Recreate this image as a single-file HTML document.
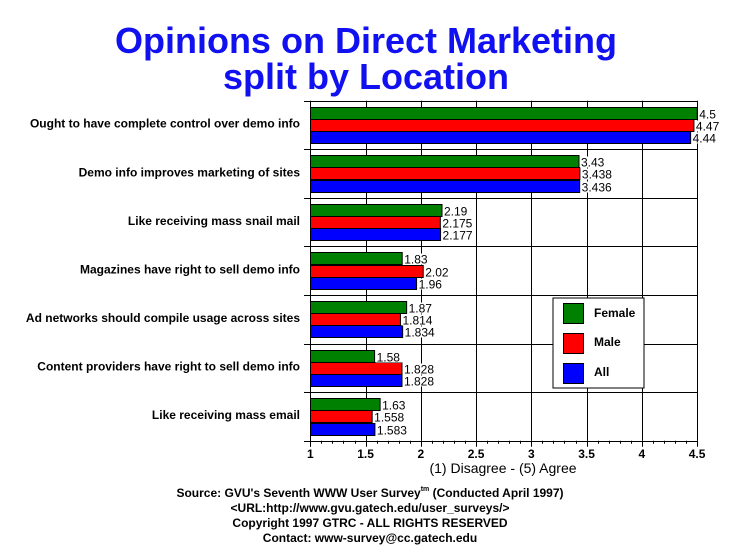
<!DOCTYPE html>
<html><head><meta charset="utf-8"><style>
body{margin:0;background:#fff;}
svg{display:block;font-family:"Liberation Sans",Arial,sans-serif;}
</style></head><body>
<svg id="c" width="729" height="553" xmlns="http://www.w3.org/2000/svg">
<text x="366" y="53" text-anchor="middle" font-size="36" font-weight="bold" fill="#1010f0">Opinions on Direct Marketing</text>
<text x="366" y="89" text-anchor="middle" font-size="36" font-weight="bold" fill="#1010f0">split by Location</text>
<g id="plot"></g>
<text x="503" y="473" text-anchor="middle" font-size="14">(1) Disagree - (5) Agree</text>
<g font-size="12" font-weight="bold" text-anchor="middle">
<text x="370" y="497">Source: GVU's Seventh WWW User Survey<tspan font-size="7" dy="-6">tm</tspan><tspan dy="6"> (Conducted April 1997)</tspan></text>
<text x="370" y="512">&lt;URL:http://www.gvu.gatech.edu/user_surveys/&gt;</text>
<text x="370" y="527">Copyright 1997 GTRC - ALL RIGHTS RESERVED</text>
<text x="370" y="542">Contact: www-survey@cc.gatech.edu</text>
</g>
<rect x="553" y="298" width="91" height="90" fill="#fff" stroke="#000" stroke-width="1"/>
<rect x="563.5" y="303.5" width="20" height="20" fill="#008000" stroke="#000"/>
<rect x="563.5" y="333.5" width="20" height="20" fill="#ff0000" stroke="#000"/>
<rect x="563.5" y="363.5" width="20" height="20" fill="#0000ff" stroke="#000"/>
<text x="594" y="317" font-size="12" font-weight="bold">Female</text>
<text x="594" y="346" font-size="12" font-weight="bold">Male</text>
<text x="594" y="376" font-size="12" font-weight="bold">All</text>
</svg>
<script>
(function(){
var ns="http://www.w3.org/2000/svg",p=document.getElementById("plot");
function el(t,a,txt){var e=document.createElementNS(ns,t);for(var k in a)e.setAttribute(k,a[k]);if(txt!=null)e.textContent=txt;p.appendChild(e);return e;}
function X(v){return 310.3+(v-1)*110.5;}
var T=100.7,B=440.7,gh=(B-T)/7;
var cats=["Ought to have complete control over demo info","Demo info improves marketing of sites","Like receiving mass snail mail","Magazines have right to sell demo info","Ad networks should compile usage across sites","Content providers have right to sell demo info","Like receiving mass email"];
var d=[["4.5","4.47","4.44"],["3.43","3.438","3.436"],["2.19","2.175","2.177"],["1.83","2.02","1.96"],["1.87","1.814","1.834"],["1.58","1.828","1.828"],["1.63","1.558","1.583"]];
var cols=["#008000","#ff0000","#0000ff"];
for(var v=1.5;v<=4.51;v+=0.5){var xx=Math.round(X(v))+0.5;el("line",{x1:xx,y1:T,x2:xx,y2:B,stroke:"#000","stroke-width":1});}
for(var i=0;i<=7;i++){var y=Math.round(T+i*gh)+0.5;el("line",{x1:304,y1:y,x2:X(4.5),y2:y,stroke:"#000","stroke-width":1});}
el("line",{x1:310.5,y1:T,x2:310.5,y2:B+6,stroke:"#000"});
for(var j=0;j<=35;j++){var vv=1+j*0.1,x=Math.round(X(vv))+0.5;el("line",{x1:x,y1:B,x2:x,y2:B+(j%5==0?6:3),stroke:"#000"});}
for(var v=1;v<=4.51;v+=0.5){el("text",{x:X(v),y:458,"text-anchor":"middle","font-size":12,"font-weight":"bold"},String(v));}
for(var i=0;i<7;i++){var g=T+i*gh;
 el("text",{x:300,y:g+27,"text-anchor":"end","font-size":12,"font-weight":"bold"},cats[i]);
 for(var k=0;k<3;k++){var y=Math.round(g+6+k*12.2)+0.5,w=X(parseFloat(d[i][k]))-310.3;
  el("rect",{x:310.5,y:y,width:w,height:12,fill:cols[k],stroke:"#000","stroke-width":1});
 }
 for(var k=0;k<3;k++){var y=Math.round(g+6+k*12.2)+0.5,w=X(parseFloat(d[i][k]))-310.3;
  var tw=d[i][k].length*6.7;
  el("rect",{x:310.5+w+1,y:y+1,width:tw,height:11,fill:"#fff"});
  el("text",{x:310.5+w+2,y:y+11,"font-size":12},d[i][k]);}
}
})();
</script>
</body></html>
